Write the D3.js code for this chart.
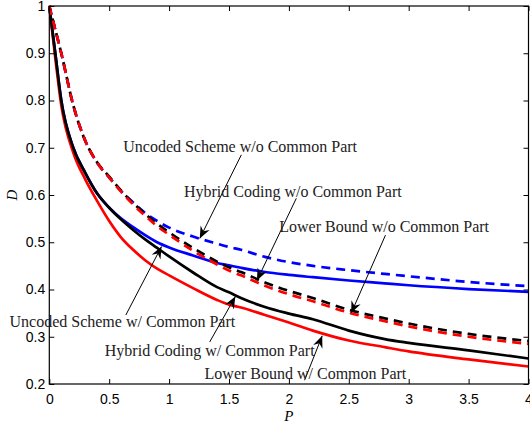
<!DOCTYPE html>
<html>
<head>
<meta charset="utf-8">
<script src="https://cdn.jsdelivr.net/npm/d3@7.9.0/dist/d3.min.js"></script>
<style>
  body { margin: 0; background: #fff; }
  svg { display: block; }
  .tick text { font-family: "Liberation Sans", Arial, sans-serif; font-size: 14px; fill: #000; }
  .note { font-family: "Liberation Serif", "DejaVu Serif", serif; font-size: 16px; fill: #222; }
</style>
</head>
<body>
<div id="chart"></div>
<script>
// P values shared by every curve
const pGrid = [0, 0.05, 0.1, 0.2, 0.3, 0.4, 0.5, 0.6, 0.7, 0.8, 0.9, 1.0, 1.2, 1.4, 1.5, 1.6, 1.8, 2.0, 2.2, 2.5, 2.8, 3.0, 3.5, 4.0];

// D values
const uncodedWithout = [1, 0.95, 0.9, 0.79, 0.715, 0.668, 0.637, 0.608, 0.584, 0.562, 0.545, 0.531, 0.512, 0.497, 0.49, 0.484, 0.469, 0.458, 0.45, 0.441, 0.433, 0.428, 0.416, 0.407];
const uncodedWith    = [1, 0.9, 0.8, 0.7, 0.647, 0.603, 0.573, 0.55, 0.532, 0.515, 0.5, 0.489, 0.472, 0.456, 0.451, 0.446, 0.437, 0.431, 0.426, 0.419, 0.413, 0.409, 0.401, 0.395];
const hybridWithout  = [1, 0.95, 0.9, 0.79, 0.715, 0.669, 0.639, 0.609, 0.583, 0.56, 0.539, 0.521, 0.488, 0.459, 0.447, 0.437, 0.415, 0.397, 0.382, 0.357, 0.339, 0.328, 0.306, 0.291];
const hybridWith     = [1, 0.9, 0.8, 0.7, 0.647, 0.603, 0.573, 0.548, 0.526, 0.506, 0.488, 0.47, 0.436, 0.405, 0.394, 0.382, 0.363, 0.349, 0.337, 0.313, 0.295, 0.287, 0.271, 0.254];
const lowerWithout   = [1, 0.95, 0.9, 0.79, 0.715, 0.668, 0.637, 0.607, 0.58, 0.556, 0.534, 0.516, 0.482, 0.453, 0.44, 0.43, 0.408, 0.39, 0.375, 0.351, 0.333, 0.322, 0.3, 0.285];
const lowerWith      = [1, 0.89, 0.79, 0.69, 0.633, 0.587, 0.545, 0.51, 0.484, 0.462, 0.444, 0.43, 0.403, 0.378, 0.368, 0.362, 0.346, 0.33, 0.313, 0.292, 0.278, 0.269, 0.252, 0.237];

const xTicks = [0, 0.5, 1, 1.5, 2, 2.5, 3, 3.5, 4];
const yTicks = [0.2, 0.3, 0.4, 0.5, 0.6, 0.7, 0.8, 0.9, 1];

// annotation text, label centre (P, D), arrow tail (P, D), arrow head (P, D)
const noteText = [
  'Uncoded Scheme w/o Common Part',
  'Hybrid Coding w/o Common Part',
  'Lower Bound w/o Common Part',
  'Uncoded Scheme w/ Common Part',
  'Hybrid Coding w/ Common Part',
  'Lower Bound w/ Common Part'
];
const noteAt   = [[1.593, 0.702], [2.033, 0.607], [2.795, 0.533], [0.61, 0.332], [1.339, 0.272], [2.138, 0.223]];
const noteTail = [[1.603, 0.685], [2.062, 0.593], [2.806, 0.515], [0.639, 0.346], [1.339, 0.289], [2.131, 0.208]];
const noteHead = [[1.256, 0.508], [1.733, 0.419], [2.52, 0.35], [0.937, 0.491], [1.553, 0.385], [2.278, 0.302]];

const width = 530;
const height = 424;
const margin = { top: 6, right: 1.5, bottom: 40, left: 49.3 };

const svg = d3.select('#chart')
  .append('svg')
  .attr('width', width)
  .attr('height', height);

const xScale = d3.scaleLinear().domain([0, 4]).range([margin.left, width - margin.right]);
const yScale = d3.scaleLinear().domain([0.2, 1]).range([height - margin.bottom, margin.top]);

svg.append('defs').append('marker')
  .attr('id', 'head')
  .attr('markerUnits', 'userSpaceOnUse')
  .attr('viewBox', '-13 -6 14 12')
  .attr('markerWidth', 14)
  .attr('markerHeight', 12)
  .attr('refX', 0)
  .attr('refY', 0)
  .attr('orient', 'auto')
  .append('path')
  .attr('d', 'M0,0L-12,-5L-8,0L-12,5Z')
  .attr('fill', '#000');

// curves
const line = d3.line()
  .x((d) => xScale(d[0]))
  .y((d) => yScale(d[1]))
  .curve(d3.curveMonotoneX);

// black dashes sit under the red ones, shifted a little so both colours show
const series = [
  { values: uncodedWith, color: '#0000ff', dash: null, offset: 0 },
  { values: uncodedWithout, color: '#0000ff', dash: '9,6', offset: 0 },
  { values: lowerWith, color: '#ff0000', dash: null, offset: 0 },
  { values: hybridWith, color: '#000000', dash: null, offset: 0 },
  { values: hybridWithout, color: '#000000', dash: '9,6', offset: 2 },
  { values: lowerWithout, color: '#ff0000', dash: '9,6', offset: 0 }
];

svg.append('g')
  .selectAll('path')
  .data(series)
  .join('path')
  .attr('d', (s) => line(pGrid.map((p, i) => [p, s.values[i]])))
  .attr('fill', 'none')
  .attr('stroke', (s) => s.color)
  .attr('stroke-width', 2.7)
  .attr('stroke-dasharray', (s) => s.dash)
  .attr('stroke-dashoffset', (s) => s.offset);

// axes, ticks inward on all four sides
const bottom = height - margin.bottom;
svg.append('g')
  .attr('transform', `translate(0, ${bottom})`)
  .call(d3.axisBottom(xScale).tickValues(xTicks).tickFormat(d3.format('')).tickSizeInner(-5).tickSizeOuter(0).tickPadding(10))
  .call((g) => g.select('.domain').remove());
svg.append('g')
  .attr('transform', `translate(${margin.left}, 0)`)
  .call(d3.axisLeft(yScale).tickValues(yTicks).tickFormat(d3.format('')).tickSizeInner(-5).tickSizeOuter(0).tickPadding(4))
  .call((g) => g.select('.domain').remove());
svg.append('g')
  .attr('transform', `translate(0, ${margin.top})`)
  .call(d3.axisTop(xScale).tickValues(xTicks).tickFormat('').tickSizeInner(-5).tickSizeOuter(0))
  .call((g) => g.select('.domain').remove());
svg.append('g')
  .attr('transform', `translate(${width - margin.right}, 0)`)
  .call(d3.axisRight(yScale).tickValues(yTicks).tickFormat('').tickSizeInner(-5).tickSizeOuter(0))
  .call((g) => g.select('.domain').remove());

svg.selectAll('.tick line').attr('stroke', '#000');

svg.append('rect')
  .attr('x', margin.left)
  .attr('y', margin.top)
  .attr('width', width - margin.right - margin.left)
  .attr('height', bottom - margin.top)
  .attr('fill', 'none')
  .attr('stroke', '#000')
  .attr('stroke-width', 1.2);

// axis names
svg.append('text')
  .attr('x', xScale(2))
  .attr('y', 421)
  .attr('text-anchor', 'middle')
  .style('font-family', '"Liberation Serif", serif')
  .style('font-style', 'italic')
  .style('font-size', '15px')
  .text('P');
svg.append('text')
  .attr('transform', `translate(17, ${yScale(0.6)}) rotate(-90)`)
  .attr('text-anchor', 'middle')
  .style('font-family', '"Liberation Serif", serif')
  .style('font-style', 'italic')
  .style('font-size', '15px')
  .text('D');

// annotations
const notes = svg.append('g');
notes.selectAll('line')
  .data(noteText)
  .join('line')
  .attr('x1', (d, i) => xScale(noteTail[i][0]))
  .attr('y1', (d, i) => yScale(noteTail[i][1]))
  .attr('x2', (d, i) => xScale(noteHead[i][0]))
  .attr('y2', (d, i) => yScale(noteHead[i][1]))
  .attr('stroke', '#000')
  .attr('stroke-width', 1)
  .attr('marker-end', 'url(#head)');
notes.selectAll('text')
  .data(noteText)
  .join('text')
  .attr('class', 'note')
  .attr('x', (d, i) => xScale(noteAt[i][0]))
  .attr('y', (d, i) => yScale(noteAt[i][1]))
  .attr('dy', '0.35em')
  .attr('text-anchor', 'middle')
  .text((d) => d);
</script>
</body>
</html>
